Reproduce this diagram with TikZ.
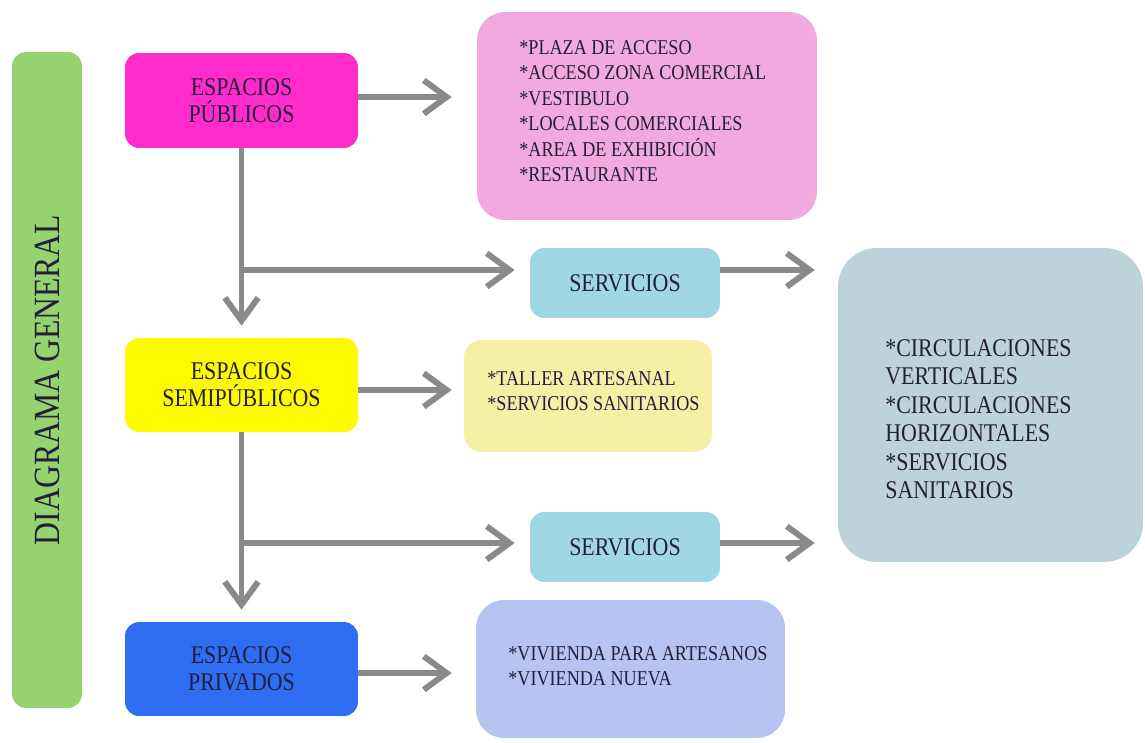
\documentclass[tikz,border=0pt]{standalone}
\usepackage{fontspec}
\setmainfont[FakeStretch=0.86]{Liberation Serif}
\usetikzlibrary{arrows.meta}
\definecolor{barra}{HTML}{96D26D}
\definecolor{publico}{HTML}{FF2BCB}
\definecolor{publista}{HTML}{F2A9E0}
\definecolor{servicio}{HTML}{9FD7E5}
\definecolor{circula}{HTML}{BDD3DB}
\definecolor{semipub}{HTML}{FFFA00}
\definecolor{semilista}{HTML}{F4F1A6}
\definecolor{privado}{HTML}{2F6DF3}
\definecolor{privlista}{HTML}{B5C4F0}
\definecolor{gris}{HTML}{8A8A8A}
\definecolor{tinta}{HTML}{231F3A}
\begin{document}
\begin{tikzpicture}[x=0.02cm, y=-0.02cm,
  caja/.style={rounded corners=8pt, text=tinta, align=center, inner sep=0pt,
    font=\fontsize{14.5}{15.5}\selectfont},
  lista/.style={rounded corners=16pt, inner sep=0pt},
  texto/.style={text=tinta, align=left, inner sep=0pt, anchor=west,
    font=\fontsize{12}{14.5}\selectfont},
  flecha/.style={draw=gris, line width=3.4pt, -{Straight Barb[length=13pt,width=19pt]}}]
\useasboundingbox (0,0) rectangle (1145,743);
\node[fill=barra, rounded corners=8pt, rotate=90, minimum width=13.12cm, minimum height=1.4cm, text=tinta, font=\fontsize{21}{24}\selectfont] (diag) at (47,380) {DIAGRAMA GENERAL};
\node[caja, fill=publico, minimum width=4.66cm, minimum height=1.9cm] (pub) at (241.5,100.5) {ESPACIOS\\PÚBLICOS};
\node[lista, fill=publista, minimum width=6.8cm, minimum height=4.16cm] (publist) at (647,116) {};
\node[texto] (publistt) at (519,111) {*PLAZA DE ACCESO\\{}*ACCESO ZONA COMERCIAL\\{}*VESTIBULO\\{}*LOCALES COMERCIALES\\{}*AREA DE EXHIBICIÓN\\{}*RESTAURANTE};
\node[caja, fill=servicio, minimum width=3.8cm, minimum height=1.4cm] (serv1) at (625,283) {SERVICIOS};
\node[lista, fill=circula, rounded corners=22pt, minimum width=6.1cm, minimum height=6.28cm] (circ) at (990.5,405) {};
\node[texto, font=\fontsize{14.5}{16.2}\selectfont] (circt) at (885,419) {*CIRCULACIONES\\VERTICALES\\{}*CIRCULACIONES\\HORIZONTALES\\{}*SERVICIOS\\SANITARIOS};
\node[caja, fill=semipub, minimum width=4.66cm, minimum height=1.88cm] (semi) at (241.5,385) {ESPACIOS\\SEMIPÚBLICOS};
\node[lista, fill=semilista, rounded corners=10pt, minimum width=4.96cm, minimum height=2.24cm] (semilist) at (588,396) {};
\node[texto] (semilistt) at (487,391) {*TALLER ARTESANAL\\{}*SERVICIOS SANITARIOS};
\node[caja, fill=servicio, minimum width=3.8cm, minimum height=1.4cm] (serv2) at (625,547) {SERVICIOS};
\node[caja, fill=privado, minimum width=4.66cm, minimum height=1.88cm] (priv) at (241.5,669) {ESPACIOS\\PRIVADOS};
\node[lista, fill=privlista, minimum width=6.18cm, minimum height=2.76cm] (privlist) at (630.5,669) {};
\node[texto] (privlistt) at (508,666) {*VIVIENDA PARA ARTESANOS\\{}*VIVIENDA NUEVA};
\coordinate (pube) at ([yshift=0.07cm]pub.east);
\coordinate (semie) at ([yshift=-0.1cm]semi.east);
\coordinate (prive) at ([yshift=-0.08cm]priv.east);
\coordinate (serv1w) at ([yshift=0.26cm]serv1.west);
\coordinate (serv1e) at ([yshift=0.26cm]serv1.east);
\coordinate (serv2w) at ([yshift=0.08cm]serv2.west);
\coordinate (serv2e) at ([yshift=0.08cm]serv2.east);
\draw[flecha, shorten >=0.5cm] (pube) -- (pube -| publist.west);
\draw[flecha, shorten >=0.24cm] (pub.south) -- (semi.north);
\draw[flecha, shorten >=0.3cm] (pub.south |- serv1w) -- (serv1w);
\draw[flecha, shorten >=0.46cm] (serv1e) -- (serv1e -| circ.west);
\draw[flecha, shorten >=0.24cm] (semie) -- (semie -| semilist.west);
\draw[flecha, shorten >=0.24cm] (semi.south) -- (priv.north);
\draw[flecha, shorten >=0.3cm] (semi.south |- serv2w) -- (serv2w);
\draw[flecha, shorten >=0.46cm] (serv2e) -- (serv2e -| circ.west);
\draw[flecha, shorten >=0.48cm] (prive) -- (prive -| privlist.west);
\end{tikzpicture}
\end{document}
